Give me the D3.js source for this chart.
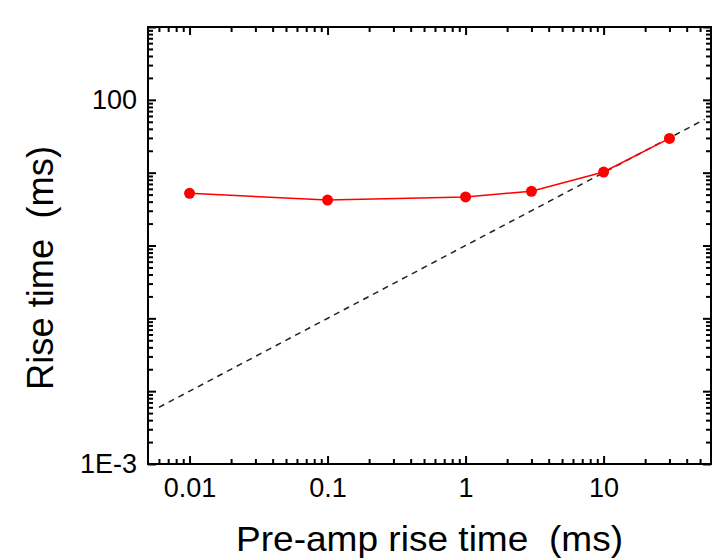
<!DOCTYPE html>
<html>
<head>
<meta charset="utf-8">
<script src="https://cdn.jsdelivr.net/npm/d3@7"></script>
<style>
  body { margin: 0; background: #fff; }
  text { font-family: "Liberation Sans", Arial, sans-serif; fill: #000; }
</style>
</head>
<body>
<div id="chart"></div>
<script>
// data
var preampRise = [0.01, 0.1, 1, 3, 10, 30];
var riseTime = [5.2, 4.2, 4.65, 5.55, 10.2, 29.5];
// dashed reference line, rise time = pre-amp rise time
var refX = [0.006, 54];
var refY = [0.006, 54];
var xLabelTicks = [0.01, 0.1, 1, 10];
var xLabels = ["0.01", "0.1", "1", "10"];
var yLabelTicks = [0.001, 100];
var yLabels = ["1E-3", "100"];

var svgWidth = 719, svgHeight = 560;
var margin = {top: 27, right: 8, bottom: 96, left: 148};
var width = svgWidth - margin.left - margin.right;
var height = svgHeight - margin.top - margin.bottom;

var svg = d3.select("#chart").append("svg")
  .attr("width", svgWidth)
  .attr("height", svgHeight);

var chartGroup = svg.append("g")
  .attr("transform", `translate(${margin.left}, ${margin.top})`);

var xScale = d3.scaleLog().domain([0.005, 60]).range([0, width]);
var yScale = d3.scaleLog().domain([0.001, 1000]).range([height, 0]);

// major (decade) and minor tick positions inside a domain
function decades(dom) {
  var out = [];
  for (var e = Math.ceil(Math.log10(dom[0]) - 1e-9); Math.pow(10, e) <= dom[1] * 1.0001; e++) out.push(Math.pow(10, e));
  return out;
}
function minors(dom) {
  var out = [];
  for (var e = Math.floor(Math.log10(dom[0])); e <= Math.ceil(Math.log10(dom[1])); e++) {
    for (var m = 2; m <= 9; m++) {
      var v = m * Math.pow(10, e);
      if (v > dom[0] * 1.0001 && v < dom[1] * 0.9999) out.push(v);
    }
  }
  return out;
}

var xMajor = decades(xScale.domain()), xMinor = minors(xScale.domain());
var yMajor = decades(yScale.domain()), yMinor = minors(yScale.domain());

function labelFor(vals, labs) {
  return function(d) {
    var i = vals.findIndex(v => Math.abs(Math.log10(v) - Math.log10(d)) < 1e-6);
    return i >= 0 ? labs[i] : "";
  };
}

function styleAxis(g) {
  g.select(".domain").remove();
  g.selectAll("line").attr("stroke", "#000").attr("stroke-width", 2);
  g.selectAll("text").attr("font-size", "27px").attr("fill", "#000");
}

var majorLen = 8, minorLen = 5;

// bottom axis
chartGroup.append("g")
  .attr("transform", `translate(0, ${height})`)
  .call(d3.axisBottom(xScale).tickValues(xMajor).tickSizeInner(-majorLen).tickSizeOuter(0)
    .tickPadding(14).tickFormat(labelFor(xLabelTicks, xLabels)))
  .call(styleAxis);
chartGroup.append("g")
  .attr("transform", `translate(0, ${height})`)
  .call(d3.axisBottom(xScale).tickValues(xMinor).tickSizeInner(-minorLen).tickSizeOuter(0).tickFormat(""))
  .call(styleAxis);

// top axis
chartGroup.append("g")
  .call(d3.axisTop(xScale).tickValues(xMajor).tickSizeInner(-majorLen).tickSizeOuter(0).tickFormat(""))
  .call(styleAxis);
chartGroup.append("g")
  .call(d3.axisTop(xScale).tickValues(xMinor).tickSizeInner(-minorLen).tickSizeOuter(0).tickFormat(""))
  .call(styleAxis);

// left axis
chartGroup.append("g")
  .call(d3.axisLeft(yScale).tickValues(yMajor).tickSizeInner(-majorLen).tickSizeOuter(0)
    .tickPadding(11).tickFormat(labelFor(yLabelTicks, yLabels)))
  .call(styleAxis);
chartGroup.append("g")
  .call(d3.axisLeft(yScale).tickValues(yMinor).tickSizeInner(-minorLen).tickSizeOuter(0).tickFormat(""))
  .call(styleAxis);

// right axis
chartGroup.append("g")
  .attr("transform", `translate(${width}, 0)`)
  .call(d3.axisRight(yScale).tickValues(yMajor).tickSizeInner(-majorLen).tickSizeOuter(0).tickFormat(""))
  .call(styleAxis);
chartGroup.append("g")
  .attr("transform", `translate(${width}, 0)`)
  .call(d3.axisRight(yScale).tickValues(yMinor).tickSizeInner(-minorLen).tickSizeOuter(0).tickFormat(""))
  .call(styleAxis);

// frame
chartGroup.append("rect")
  .attr("width", width)
  .attr("height", height)
  .attr("fill", "none")
  .attr("stroke", "#000")
  .attr("stroke-width", 2);

// dashed y = x line
var line = d3.line().x(d => xScale(d[0])).y(d => yScale(d[1]));
chartGroup.append("path")
  .datum(d3.zip(refX, refY))
  .attr("d", line)
  .attr("fill", "none")
  .attr("stroke", "#222")
  .attr("stroke-width", 1.5)
  .attr("stroke-dasharray", "6,5");

// measured data
var pts = d3.zip(preampRise, riseTime);
chartGroup.append("path")
  .datum(pts)
  .attr("d", line)
  .attr("fill", "none")
  .attr("stroke", "#ff0000")
  .attr("stroke-width", 1.5);

chartGroup.append("g")
  .selectAll("circle")
  .data(pts)
  .enter()
  .append("circle")
  .attr("cx", d => xScale(d[0]))
  .attr("cy", d => yScale(d[1]))
  .attr("r", 5.5)
  .attr("fill", "#ff0000");

// axis titles
svg.append("text")
  .attr("x", margin.left + width / 2)
  .attr("y", 551)
  .attr("text-anchor", "middle")
  .attr("font-size", "35px")
  .attr("textLength", 387)
  .attr("lengthAdjust", "spacingAndGlyphs")
  .text("Pre-amp rise time\u00a0\u00a0(ms)");

svg.append("text")
  .attr("transform", "translate(53, 268) rotate(-90)")
  .attr("text-anchor", "middle")
  .attr("font-size", "36px")
  .attr("textLength", 244)
  .attr("lengthAdjust", "spacingAndGlyphs")
  .text("Rise time\u00a0\u00a0(ms)");
</script>
</body>
</html>
